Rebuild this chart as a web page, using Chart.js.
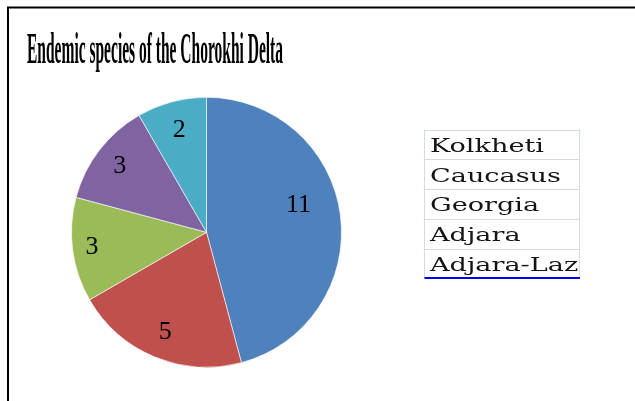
<!DOCTYPE html>
<html>
<head>
<meta charset="utf-8">
<title>Endemic species of the Chorokhi Delta</title>
<script src="https://cdn.jsdelivr.net/npm/chart.js@4"></script>
<style>
  html, body { margin: 0; padding: 0; background: #ffffff; }
  #wrap { width: 635px; height: 401px; position: relative; }
</style>
</head>
<body>
<div id="wrap"><canvas id="chart" width="635" height="401"></canvas></div>
<script>
// Endemic species counts by range
const categories = ['Kolkheti', 'Caucasus', 'Georgia', 'Adjara', 'Adjara-Laz'];
const speciesCounts = [11, 5, 3, 3, 2];
const sliceColors = ['#4F81BD', '#C0504D', '#9BBB59', '#8064A2', '#4BACC6'];
const chartTitle = 'Endemic species of the Chorokhi Delta';

// label placement inside each slice: fraction of radius, angular nudge (degrees)
const labelRadius = [0.71, 0.80, 0.855, 0.81, 0.78];
const labelNudge = [-8.8, 0, 0, 0, 0];

const framePlugin = {
  id: 'frame',
  beforeDraw(chart) {
    const ctx = chart.ctx;
    ctx.save();
    ctx.fillStyle = '#ffffff';
    ctx.fillRect(0, 0, chart.width, chart.height);
    ctx.strokeStyle = '#000000';
    ctx.lineWidth = 2;
    ctx.beginPath();
    ctx.moveTo(8, 401);
    ctx.lineTo(8, 7.5);
    ctx.lineTo(635, 7.5);
    ctx.stroke();
    ctx.restore();
  }
};

const titlePlugin = {
  id: 'condensedTitle',
  afterDraw(chart) {
    const ctx = chart.ctx;
    ctx.save();
    ctx.font = 'bold 44px "Liberation Serif", serif';
    ctx.fillStyle = '#000000';
    ctx.textBaseline = 'alphabetic';
    const w = ctx.measureText(chartTitle).width;
    const sx = 256 / w;
    ctx.translate(27, 62.5);
    ctx.scale(sx, 1);
    ctx.fillText(chartTitle, 0, 0);
    ctx.restore();
  }
};

const sliceLabelPlugin = {
  id: 'sliceLabels',
  afterDatasetsDraw(chart) {
    const ctx = chart.ctx;
    const meta = chart.getDatasetMeta(0);
    ctx.save();
    ctx.font = '26px "Liberation Serif", serif';
    ctx.fillStyle = '#000000';
    ctx.textAlign = 'center';
    ctx.textBaseline = 'middle';
    meta.data.forEach((arc, i) => {
      const p = arc.getProps(['x', 'y', 'startAngle', 'endAngle', 'outerRadius'], true);
      const mid = (p.startAngle + p.endAngle) / 2 + labelNudge[i] * Math.PI / 180;
      const r = p.outerRadius * labelRadius[i];
      ctx.fillText(String(chart.data.datasets[0].data[i]), p.x + Math.cos(mid) * r, p.y + Math.sin(mid) * r);
    });
    ctx.restore();
  }
};

const tableLegendPlugin = {
  id: 'tableLegend',
  afterDraw(chart) {
    const ctx = chart.ctx;
    const labels = chart.data.labels;
    const left = 424.5, right = 579.5, top = 129.5, rowH = 29.75;
    ctx.save();
    ctx.strokeStyle = '#D3DAE8';
    ctx.lineWidth = 1;
    ctx.beginPath();
    for (let i = 0; i < labels.length; i++) {
      const y = Math.round(top + i * rowH) + 0.5;
      ctx.moveTo(left, y);
      ctx.lineTo(right, y);
    }
    const bottom = top + labels.length * rowH;
    ctx.moveTo(left, top);
    ctx.lineTo(left, bottom);
    ctx.moveTo(right, top);
    ctx.lineTo(right, bottom);
    ctx.stroke();
    ctx.strokeStyle = '#0000F0';
    ctx.lineWidth = 2;
    ctx.beginPath();
    ctx.moveTo(left, Math.round(bottom));
    ctx.lineTo(right + 0.5, Math.round(bottom));
    ctx.stroke();

    ctx.font = '19px "DejaVu Serif", serif';
    ctx.fillStyle = '#141414';
    ctx.textBaseline = 'alphabetic';
    const sx = 114 / ctx.measureText(labels[0]).width;
    labels.forEach((lab, i) => {
      ctx.save();
      ctx.translate(430, top + i * rowH + 22.3);
      ctx.scale(sx, 1);
      ctx.fillText(lab, 0, 0);
      ctx.restore();
    });
    ctx.restore();
  }
};

new Chart(document.getElementById('chart'), {
  type: 'pie',
  data: {
    labels: categories,
    datasets: [{
      data: speciesCounts,
      backgroundColor: sliceColors,
      borderColor: 'rgba(255,255,255,0.6)',
      borderWidth: 1
    }]
  },
  options: {
    responsive: false,
    animation: false,
    radius: 135,
    layout: { padding: { left: 71.5, right: 293.5, top: 97.3, bottom: 33.7 } },
    plugins: {
      legend: { display: false },
      title: { display: false },
      tooltip: { enabled: false }
    }
  },
  plugins: [framePlugin, sliceLabelPlugin, titlePlugin, tableLegendPlugin]
});
</script>
</body>
</html>
